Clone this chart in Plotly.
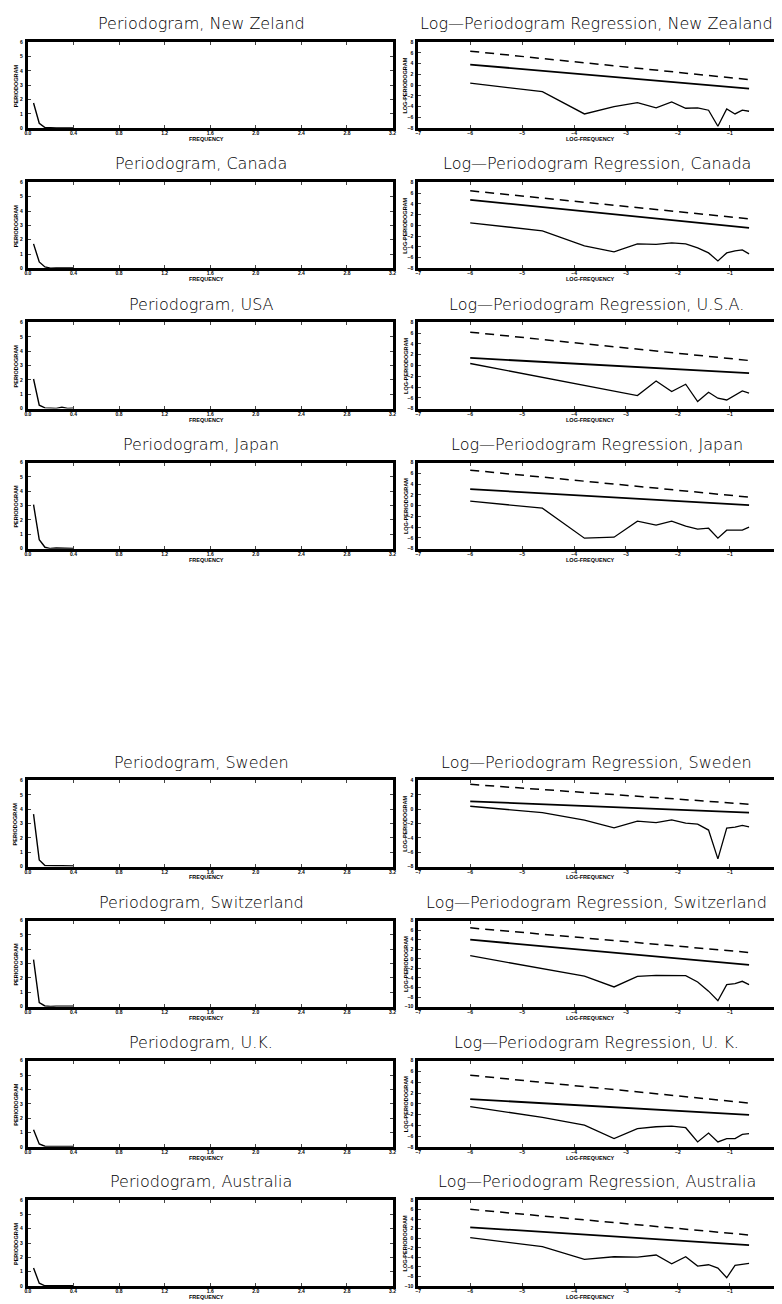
import plotly.graph_objects as go

W, H = 782, 1304
OFF = 8  # page body margin of the generated html
FW, FH = W - OFF, H - OFF

# ---------------- data ----------------
titles_left = ["Periodogram, New Zeland", "Periodogram, Canada", "Periodogram, USA", "Periodogram, Japan",
               "Periodogram, Sweden", "Periodogram, Switzerland", "Periodogram, U.K.", "Periodogram, Australia"]
titles_right = ["Log—Periodogram Regression, New Zealand", "Log—Periodogram Regression, Canada",
                "Log—Periodogram Regression, U.S.A.", "Log—Periodogram Regression, Japan",
                "Log—Periodogram Regression, Sweden", "Log—Periodogram Regression, Switzerland",
                "Log—Periodogram Regression, U. K.", "Log—Periodogram Regression, Australia"]

freq = [0.050, 0.100, 0.150, 0.199, 0.249, 0.299, 0.349, 0.399]
log_freq = [-6.00, -4.61, -3.80, -3.23, -2.78, -2.42, -2.12, -1.85, -1.62, -1.41, -1.23, -1.06, -0.90, -0.76, -0.63]

pgram_nz = [1.76, 0.35, 0.05, 0.02, 0.03, 0.02, 0.03, 0.02]
pgram_ca = [1.71, 0.45, 0.10, 0.02, 0.03, 0.03, 0.03, 0.03]
pgram_us = [2.06, 0.23, 0.05, 0.01, 0.01, 0.10, 0.01, 0.03]
pgram_jp = [3.07, 0.63, 0.10, 0.01, 0.05, 0.03, 0.05, 0.02]
pgram_se = [3.65, 0.46, 0.07, 0.04, 0.05, 0.05, 0.06, 0.04]
pgram_ch = [3.28, 0.28, 0.05, 0.01, 0.04, 0.04, 0.04, 0.04]
pgram_uk = [1.19, 0.20, 0.04, 0.01, 0.02, 0.02, 0.02, 0.02]
pgram_au = [1.26, 0.20, 0.02, 0.02, 0.02, 0.03, 0.01, 0.02]

logp_nz = [0.37, -1.19, -5.34, -3.98, -3.24, -4.22, -3.11, -4.28, -4.22, -4.65, -7.63, -4.41, -5.34, -4.65, -4.84]
logp_ca = [0.47, -1.02, -3.81, -4.93, -3.44, -3.54, -3.26, -3.44, -4.19, -5.12, -6.60, -5.12, -4.74, -4.56, -5.30]
logp_us = [0.37, -2.23, -3.72, -4.84, -5.58, -2.87, -4.84, -3.48, -6.70, -4.97, -6.08, -6.40, -5.47, -4.73, -5.15]
logp_jp = [0.84, -0.47, -6.05, -5.86, -2.88, -3.63, -2.88, -3.81, -4.37, -4.19, -6.05, -4.56, -4.56, -4.56, -4.00]
logp_se = [0.40, -0.48, -1.54, -2.60, -1.67, -1.87, -1.49, -1.95, -2.09, -2.92, -6.93, -2.64, -2.50, -2.28, -2.46]
logp_ch = [0.65, -1.97, -3.61, -5.88, -3.67, -3.47, -3.47, -3.53, -4.85, -6.76, -8.76, -5.38, -5.18, -4.70, -5.38]
logp_uk = [-0.55, -2.51, -3.97, -6.46, -4.63, -4.27, -4.16, -4.45, -7.09, -5.44, -7.09, -6.46, -6.46, -5.68, -5.55]
logp_au = [0.11, -1.77, -4.41, -3.87, -3.93, -3.51, -5.33, -3.87, -5.81, -5.54, -6.23, -8.26, -5.67, -5.46, -5.25]

# fitted regression line and upper (dashed) line, values at first and last log-frequency
fit_ends_x = [-6.00, -0.63]
fit_solid = [[3.83, -0.63], [4.74, -0.47], [1.41, -1.43], [3.07, 0.09],
             [1.09, -0.48], [4.01, -1.27], [0.86, -2.07], [2.29, -1.42]]
fit_dashed = [[6.33, 1.04], [6.42, 1.21], [6.20, 0.93], [6.60, 1.58],
              [3.45, 0.68], [6.48, 1.33], [5.31, 0.13], [6.05, 0.67]]

pgrams = [pgram_nz, pgram_ca, pgram_us, pgram_jp, pgram_se, pgram_ch, pgram_uk, pgram_au]
logps = [logp_nz, logp_ca, logp_us, logp_jp, logp_se, logp_ch, logp_uk, logp_au]

left_yrange = [0, 6]
right_yranges = [[-8, 8], [-8, 8], [-8, 8], [-8, 8], [-8, 4], [-10, 8], [-8, 8], [-10, 8]]
left_xticks = [0.0, 0.4, 0.8, 1.2, 1.6, 2.0, 2.4, 2.8, 3.2]
left_xticklabels = ["0.0", "0.4", "0.8", "1.2", "1.6", "2.0", "2.4", "2.8", "3.2"]
right_xticks = [-7, -6, -5, -4, -3, -2, -1, 0]

# ---------------- layout geometry (page pixels) ----------------
frame_tops = [39.3, 180.1, 320.9, 461.7, 781.0, 921.8, 1062.6, 1202.5]
frame_h = 86.5
L_x0, L_x1 = 25, 393
R_x0 = 419
R_scale = 52.4  # px per log-frequency unit


def py(p):
    return 1 - (p - OFF) / FH


def px(p):
    return (p - OFF) / FW


fig = go.Figure()
layout = dict(width=FW, height=FH, margin=dict(l=0, r=0, t=0, b=0),
              paper_bgcolor="white", plot_bgcolor="white", showlegend=False,
              annotations=[])

tickfont = dict(family="Liberation Sans, Arial", size=5, color="black", weight="bold")
lblfont = dict(family="Liberation Sans, Arial", size=5.5, color="black", weight="bold")
titlefont = dict(family="DejaVu Sans", size=16, color="black", weight=200)

ax = 0
for i in range(8):
    top = frame_tops[i]
    bot = top + frame_h
    ydom = [py(bot), py(top)]

    # ---- left periodogram panel ----
    ax += 1
    xn = "x" if ax == 1 else f"x{ax}"
    yn = "y" if ax == 1 else f"y{ax}"
    fig.add_trace(go.Scatter(x=freq, y=pgrams[i], mode="lines", xaxis=xn, yaxis=yn,
                             line=dict(color="black", width=1.4)))
    layout["xaxis" if ax == 1 else f"xaxis{ax}"] = dict(
        domain=[px(L_x0), px(L_x1)], anchor=yn, range=[0, 3.2],
        tickvals=left_xticks, ticktext=left_xticklabels, ticks="inside", ticklen=3, tickwidth=1,
        showline=True, linewidth=3, linecolor="black", mirror="ticks", showgrid=False,
        zeroline=False, tickfont=tickfont, ticklabelstandoff=-2)
    layout["yaxis" if ax == 1 else f"yaxis{ax}"] = dict(
        domain=ydom, anchor=xn, range=left_yrange, dtick=1, ticks="inside", ticklen=3, tickwidth=1,
        showline=True, linewidth=3, linecolor="black", mirror="ticks", showgrid=False,
        zeroline=False, tickfont=tickfont, ticklabelstandoff=1)
    layout["annotations"] += [
        dict(text=titles_left[i], x=px(200), y=py(top - 18.5), xref="paper", yref="paper",
             showarrow=False, font=titlefont, xanchor="center", yanchor="middle"),
        dict(text="FREQUENCY", x=px(205), y=py(bot + 11), xref="paper", yref="paper",
             showarrow=False, font=lblfont, xanchor="center", yanchor="middle", borderpad=0),
        dict(text="PERIODOGRAM", x=px(13), y=py(top + frame_h / 2), xref="paper", yref="paper",
             showarrow=False, font=lblfont, textangle=-90, xanchor="center", yanchor="middle"),
    ]

    # ---- right log-periodogram panel ----
    ax += 1
    xn = f"x{ax}"
    yn = f"y{ax}"
    fig.add_trace(go.Scatter(x=fit_ends_x, y=fit_dashed[i], mode="lines", xaxis=xn, yaxis=yn,
                             line=dict(color="black", width=1.5, dash="9px,6px")))
    fig.add_trace(go.Scatter(x=fit_ends_x, y=fit_solid[i], mode="lines", xaxis=xn, yaxis=yn,
                             line=dict(color="black", width=1.8)))
    fig.add_trace(go.Scatter(x=log_freq, y=logps[i], mode="lines", xaxis=xn, yaxis=yn,
                             line=dict(color="black", width=1.3)))
    xmax = -7 + (W - R_x0) / R_scale
    layout[f"xaxis{ax}"] = dict(
        domain=[px(R_x0), 1.0], anchor=yn, range=[-7, xmax],
        tickvals=right_xticks, ticks="inside", ticklen=3, tickwidth=1,
        showline=True, linewidth=3, linecolor="black", mirror="ticks", showgrid=False,
        zeroline=False, tickfont=tickfont, ticklabelstandoff=-2)
    layout[f"yaxis{ax}"] = dict(
        domain=ydom, anchor=xn, range=right_yranges[i], dtick=2, ticks="inside", ticklen=3, tickwidth=1,
        showline=True, linewidth=3, linecolor="black", mirror=False, showgrid=False,
        zeroline=False, tickfont=tickfont, ticklabelstandoff=1)
    layout["annotations"] += [
        dict(text=titles_right[i], x=px(599), y=py(top - 18.5), xref="paper", yref="paper",
             showarrow=False, font=titlefont, xanchor="center", yanchor="middle"),
        dict(text="LOG-FREQUENCY", x=px(593), y=py(bot + 11), xref="paper", yref="paper",
             showarrow=False, font=lblfont, xanchor="center", yanchor="middle", borderpad=0),
        dict(text="LOG-PERIODOGRAM", x=px(406), y=py(top + frame_h / 2), xref="paper", yref="paper",
             showarrow=False, font=lblfont, textangle=-90, xanchor="center", yanchor="middle"),
    ]

fig.update_layout(**layout)
fig.write_html("out.html")
